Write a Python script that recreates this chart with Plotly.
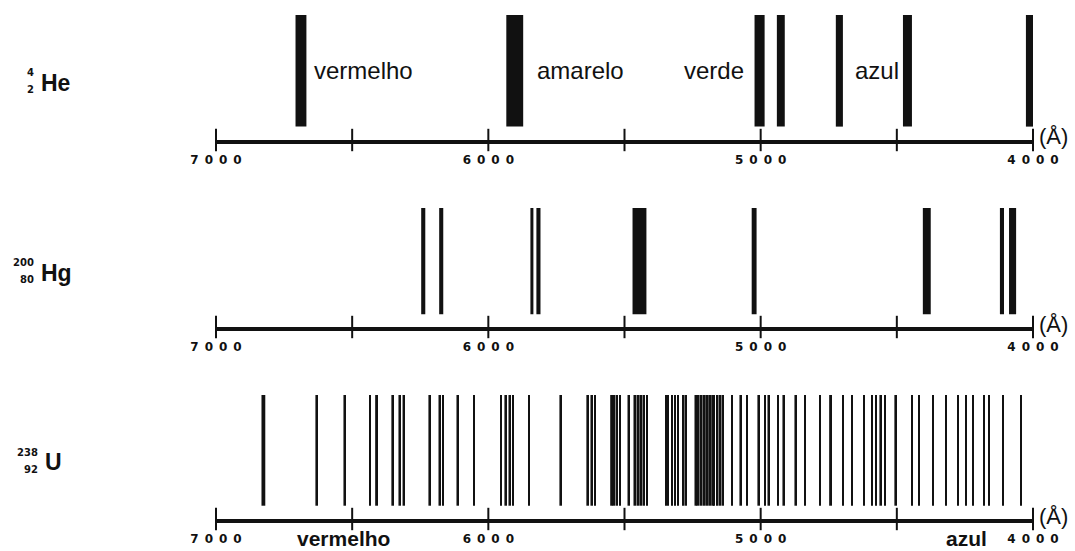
import plotly.graph_objects as go
from plotly.subplots import make_subplots

W, H = 1075, 551

# emission lines: wavelength (Å) and drawn width (Å)
he_lambda = [6688, 5903, 5004, 4926, 4711, 4461, 4013]
he_width = [40, 62, 37, 29, 26, 33, 26]

hg_lambda = [6239, 6173, 5840, 5816, 5445, 5024, 4390, 4114, 4075]
hg_width = [15, 15, 11, 15, 51, 18, 29, 15, 26]

u_lambda = [6826, 6632, 6529, 6434, 6412, 6353, 6327, 6312, 6217, 6180,
            6166, 6114, 6052, 5953, 5938, 5923, 5909, 5850, 5736, 5637,
            5622, 5608, 5549, 5541, 5530, 5516, 5486, 5464, 5453, 5442,
            5431, 5417, 5347, 5340, 5325, 5314, 5303, 5284, 5277, 5240,
            5233, 5222, 5211, 5200, 5189, 5178, 5171, 5160, 5152, 5141,
            5105, 5075, 5050, 5009, 4984, 4972, 4936, 4917, 4873, 4837,
            4782, 4745, 4697, 4664, 4620, 4591, 4576, 4561, 4543, 4506,
            4444, 4418, 4367, 4319, 4275, 4246, 4220, 4180, 4161, 4110,
            4044]
u_width = [14, 6, 6, 6, 7, 6, 6, 6, 6, 6,
           6, 6, 6, 6, 6, 6, 6, 6, 6, 6,
           6, 6, 7, 6, 6, 6, 6, 6, 6, 7,
           6, 6, 6, 6, 6, 6, 5, 5, 6, 6,
           6, 6, 6, 7, 7, 7, 6, 6, 6, 6,
           6, 6, 6, 6, 6, 6, 6, 6, 6, 6,
           6, 7, 6, 6, 6, 7, 6, 6, 6, 6,
           6, 6, 6, 6, 6, 6, 6, 6, 6, 6,
           6]

tick_vals = [7000, 6500, 6000, 5500, 5000, 4500, 4000]
tick_text = ['7000', '', '6000', '', '5000', '', '4000']

he_colors = ['vermelho', 'amarelo', 'verde', 'azul']
he_color_at = [6646, 5828, 5288, 4660]
u_colors = ['vermelho', 'azul']
u_color_at = [6533, 4246]

elements = [('He', '4', '2'), ('Hg', '200', '80'), ('U', '238', '92')]


def fx(px):
    return px / W


def fy(py):
    return 1 - py / H


# pixel layout of the three strips: (axis line y, top of lines y)
strips = [(140, 15), (327, 208), (519, 395)]
YMIN = -0.12

fig = make_subplots(rows=3, cols=1)

spectra = [(he_lambda, he_width), (hg_lambda, hg_width), (u_lambda, u_width)]
for i, (lam, wid) in enumerate(spectra):
    row = i + 1
    fig.add_trace(go.Bar(x=lam, y=[1] * len(lam), base=0, width=wid,
                         marker=dict(color='#111', line=dict(width=0))),
                  row=row, col=1)
    fig.add_trace(go.Scatter(x=tick_vals, y=[YMIN] * len(tick_vals), mode='markers',
                             marker=dict(symbol='line-ns', size=16,
                                         line=dict(width=2, color='#111')),
                             cliponaxis=False, hoverinfo='skip'),
                  row=row, col=1)
    axis_y, top_y = strips[i]
    fig.update_xaxes(range=[7000, 4000], domain=[fx(216), fx(1033)],
                     automargin=False,
                     showline=True, linewidth=4, linecolor='#111',
                     tickvals=tick_vals,
                     ticktext=['\u2002'.join(t) for t in tick_text],
                     ticks='outside', ticklen=6, tickcolor='rgba(0,0,0,0)',
                     tickfont=dict(family='DejaVu Sans', size=12, color='#111', weight='bold'),
                     showgrid=False, zeroline=False, fixedrange=True,
                     row=row, col=1)
    fig.update_yaxes(range=[YMIN, 1], domain=[fy(axis_y), fy(top_y)], visible=False,
                     automargin=False, fixedrange=True, row=row, col=1)

    # (Å) at the end of each axis
    fig.add_annotation(text='(Å)', xref='paper', yref='paper', x=fx(1037), y=fy(axis_y - 3),
                       xanchor='left', yanchor='middle', showarrow=False,
                       font=dict(family='Liberation Sans', size=22, color='#111'))

    # element symbol with mass / atomic number
    sym, mass, z = elements[i]
    mid = (axis_y + top_y) / 2 + 5
    left = 43 if sym == 'U' else 39
    fig.add_annotation(text='<b>%s</b>' % sym, xref='paper', yref='paper', x=fx(left), y=fy(mid),
                       xanchor='left', yanchor='middle', showarrow=False,
                       font=dict(family='Liberation Sans', size=23, color='#111'))
    fig.add_annotation(text='<b>%s</b>' % mass, xref='paper', yref='paper', x=fx(left - 3), y=fy(mid - 10),
                       xanchor='right', yanchor='middle', showarrow=False,
                       font=dict(family='DejaVu Sans', size=10, color='#111'))
    fig.add_annotation(text='<b>%s</b>' % z, xref='paper', yref='paper', x=fx(left - 3), y=fy(mid + 7),
                       xanchor='right', yanchor='middle', showarrow=False,
                       font=dict(family='DejaVu Sans', size=10, color='#111'))

# colour names inside the helium strip
for name, lam in zip(he_colors, he_color_at):
    fig.add_annotation(text=name, x=lam, y=0.5, xref='x', yref='y',
                       xanchor='left', yanchor='middle', showarrow=False,
                       font=dict(family='Liberation Sans', size=24, color='#111'))

# colour names under the uranium axis
for name, lam in zip(u_colors, u_color_at):
    fig.add_annotation(text='<b>%s</b>' % name, x=lam, y=fy(538), xref='x3', yref='paper',
                       xanchor='center', yanchor='middle', showarrow=False,
                       font=dict(family='Liberation Sans', size=21, color='#111'))

fig.update_layout(width=W, height=H, margin=dict(l=0, r=0, t=0, b=0),
                  paper_bgcolor='white', plot_bgcolor='white',
                  showlegend=False, barmode='overlay')

fig.write_html("out.html", config={'displayModeBar': False},
               post_script="document.body.style.margin='0';")
